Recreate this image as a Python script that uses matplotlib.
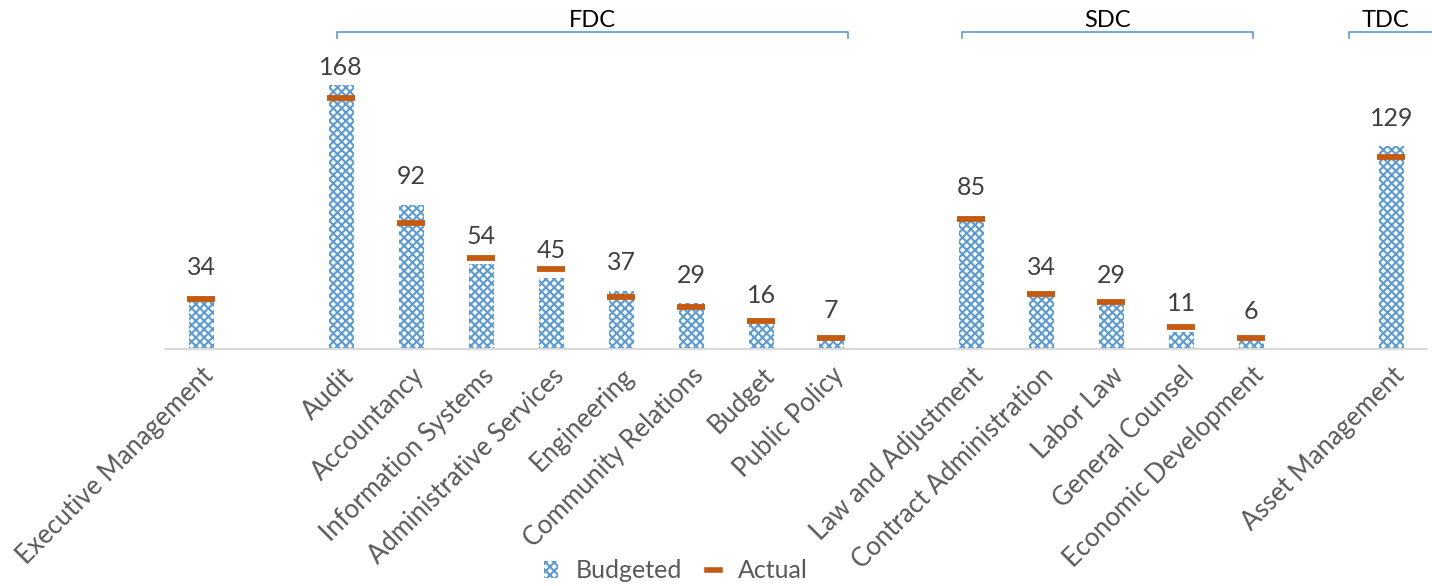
import numpy as np
import matplotlib.pyplot as plt
from matplotlib.patches import Patch
from matplotlib.lines import Line2D

plt.rcParams['font.family'] = ['Lato', 'DejaVu Sans']
plt.rcParams['hatch.linewidth'] = 1.5

# categories in slot order ('' = empty spacer slot)
categories = ['Executive Management', '',
              'Audit', 'Accountancy', 'Information Systems', 'Administrative Services',
              'Engineering', 'Community Relations', 'Budget', 'Public Policy', '',
              'Law and Adjustment', 'Contract Administration', 'Labor Law',
              'General Counsel', 'Economic Development', '',
              'Asset Management']
budgeted = [34, None, 168, 92, 54, 45, 37, 29, 16, 7, None, 85, 34, 29, 11, 6, None, 129]
actual = [32, None, 160, 80, 58, 51, 33, 27, 18, 7, None, 83, 35, 30, 14, 7, None, 122]

groups = ['FDC', 'SDC', 'TDC']
group_spans = [(1.94, 9.24), (10.87, 15.03), (16.39, 17.65)]

blue = '#5B9BD5'
orange = '#C55A11'

fig = plt.figure(figsize=(14.32, 5.86), dpi=100)
ax = fig.add_axes([0.116, 0.4044, 0.88, 0.4932])

idx = [i for i, v in enumerate(budgeted) if v is not None]
x = np.array(idx, dtype=float)
b = np.array([budgeted[i] for i in idx])
a = np.array([actual[i] for i in idx])
w = 0.36

ax.bar(x, b, width=w, facecolor='white', edgecolor=blue, hatch='xxxx', linewidth=0)
ax.hlines(a, x - w / 2 - 0.02, x + w / 2 + 0.02, color=orange, lw=4.2)

for xi, v in zip(x, b):
    ax.text(xi, min(v + 17.8, 179.5), str(v), ha='center', va='center',
            fontsize=18, color='#404040', clip_on=False)

ax.set_xlim(-0.5, len(categories) - 0.5)
ax.set_ylim(0, 184)
ax.set_xticks(x)
ax.set_xticklabels([categories[i] for i in idx], rotation=45, ha='right',
                   rotation_mode='anchor', fontsize=18.5, color='#595959')
ax.tick_params(axis='x', length=0, pad=10)
ax.set_yticks([])
for s in ['top', 'right', 'left']:
    ax.spines[s].set_visible(False)
ax.spines['bottom'].set_color('#D9D9D9')
ax.spines['bottom'].set_linewidth(1.5)

# group brackets above the plot
for name, (x0, x1) in zip(groups, group_spans):
    y_line = 202
    ax.plot([x0, x0, x1, x1], [y_line - 4, y_line, y_line, y_line - 4],
            color=blue, lw=1.2, clip_on=False)
    ax.text((x0 + min(x1, 17.45)) / 2, y_line + 0.5, name, ha='center', va='bottom',
            fontsize=17, color='black', clip_on=False)

handles = [Patch(facecolor='white', edgecolor=blue, hatch='xxxx', linewidth=0),
           Line2D([0], [0], color=orange, lw=4)]
fig.legend(handles, ['Budgeted', 'Actual'], loc='center', bbox_to_anchor=(0.472, 0.026),
           ncol=2, frameon=False, fontsize=18, labelcolor='#595959',
           handlelength=0.55, handletextpad=0.7, columnspacing=1.0)

fig.savefig('out.png', dpi=100)
